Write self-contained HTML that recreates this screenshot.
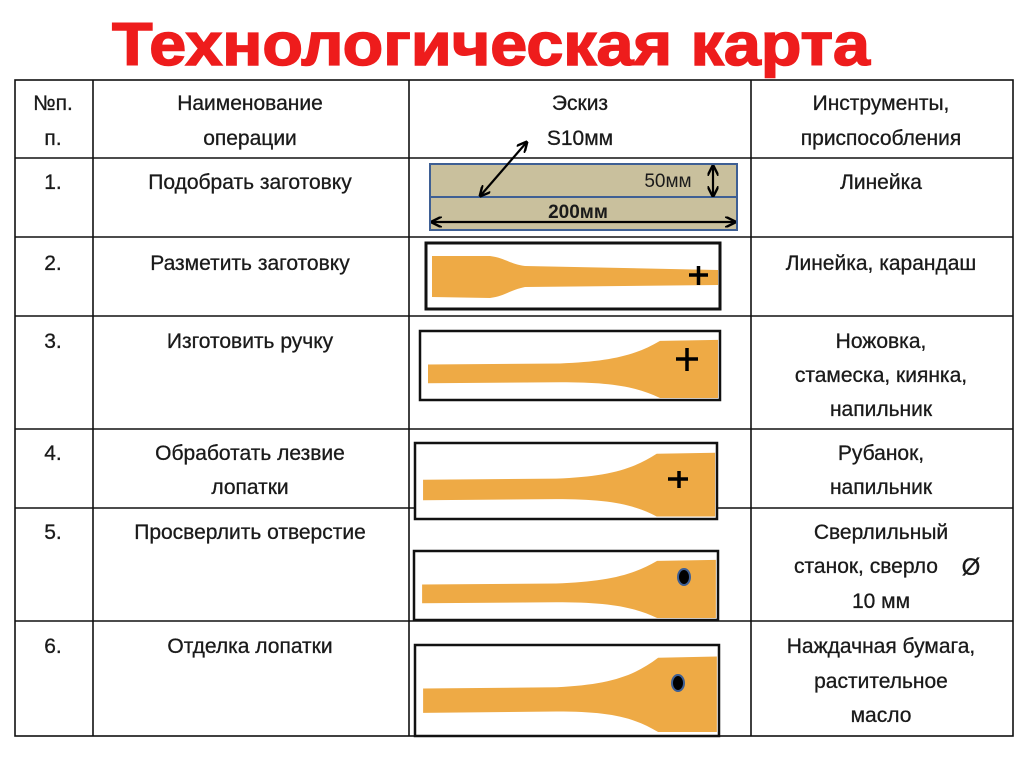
<!DOCTYPE html>
<html><head><meta charset="utf-8"><style>
body{margin:0;background:#fff;width:1024px;height:767px;overflow:hidden}
svg{display:block}
text{font-family:"Liberation Sans","DejaVu Sans",sans-serif;fill:#1a1a1a}
</style></head><body>
<svg width="1024" height="767" viewBox="0 0 1024 767" xmlns="http://www.w3.org/2000/svg">
<defs>
<path id="sp" d="M8,34 L140,33 C190,31 215,25 240,10 L298,9 L298,68 L240,68 C215,56 190,52 140,52 L8,53 Z" fill="#eeaa45"/>
<marker id="ah" viewBox="0 0 10 10" refX="8" refY="5" markerWidth="5" markerHeight="5" orient="auto-start-reverse"><path d="M0,0 L10,5 L0,10" fill="none" stroke="#000" stroke-width="2.2"/></marker>
</defs>
<text x="491" y="65" text-anchor="middle" font-size="60" font-weight="bold" style="fill:#ee1c1c;stroke:#ee1c1c;stroke-width:1.5" textLength="758" lengthAdjust="spacingAndGlyphs">Технологическая карта</text>
<g stroke="#111" stroke-width="1.6" fill="none">
<rect x="15" y="80" width="998" height="656"/>
<line x1="93" y1="80" x2="93" y2="736"/>
<line x1="409" y1="80" x2="409" y2="736"/>
<line x1="751" y1="80" x2="751" y2="736"/>
<line x1="15" y1="158" x2="1013" y2="158"/>
<line x1="15" y1="237" x2="1013" y2="237"/>
<line x1="15" y1="316" x2="1013" y2="316"/>
<line x1="15" y1="429" x2="1013" y2="429"/>
<line x1="15" y1="508" x2="1013" y2="508"/>
<line x1="15" y1="621" x2="1013" y2="621"/>
</g>
<g font-size="21" text-anchor="middle" style="stroke:#1a1a1a;stroke-width:0.3">
<text x="53" y="110">№п.</text><text x="53" y="145">п.</text>
<text x="250" y="110">Наименование</text><text x="250" y="145">операции</text>
<text x="580" y="110">Эскиз</text><text x="580" y="145">S10мм</text>
<text x="881" y="110">Инструменты,</text><text x="881" y="145">приспособления</text>
<text x="53" y="189">1.</text><text x="250" y="189">Подобрать заготовку</text><text x="881" y="189">Линейка</text>
<text x="53" y="270">2.</text><text x="250" y="270">Разметить заготовку</text><text x="881" y="270">Линейка, карандаш</text>
<text x="53" y="348">3.</text><text x="250" y="348">Изготовить ручку</text>
<text x="881" y="348">Ножовка,</text><text x="881" y="382">стамеска, киянка,</text><text x="881" y="416">напильник</text>
<text x="53" y="460">4.</text><text x="250" y="460">Обработать лезвие</text><text x="250" y="494">лопатки</text>
<text x="881" y="460">Рубанок,</text><text x="881" y="494">напильник</text>
<text x="53" y="539">5.</text><text x="250" y="539">Просверлить отверстие</text>
<text x="881" y="539">Сверлильный</text><text x="866" y="573">станок, сверло</text><text x="971" y="575" font-size="24">Ø</text><text x="881" y="608">10 мм</text>
<text x="53" y="653">6.</text><text x="250" y="653">Отделка лопатки</text>
<text x="881" y="653">Наждачная бумага,</text><text x="881" y="688">растительное</text><text x="881" y="722">масло</text>
</g>
<rect x="430" y="164" width="307" height="33" fill="#c9c09d" stroke="#3e5f94" stroke-width="2"/>
<rect x="430" y="197" width="307" height="33" fill="#c9c09d" stroke="#3e5f94" stroke-width="2"/>
<text x="668" y="187" font-size="19" text-anchor="middle">50мм</text>
<text x="578" y="218" font-size="19" font-weight="bold" text-anchor="middle">200мм</text>
<g stroke="#000" stroke-width="2.2" marker-start="url(#ah)" marker-end="url(#ah)">
<line x1="481" y1="195" x2="526" y2="143"/>
<line x1="433" y1="222" x2="734" y2="222"/>
<line x1="713" y1="167" x2="713" y2="195"/>
</g>
<rect x="426" y="243" width="294" height="66" fill="#fff" stroke="#111" stroke-width="3"/>
<path d="M432,256 L490,256 C505,258 510,264 525,266 L718,270 L718,285 L525,287 C510,290 505,296 490,298 L432,297 Z" fill="#eeaa45"/>
<path d="M689,275 h19 M698.5,266 v19" stroke="#000" stroke-width="3.5"/>
<rect x="420" y="331" width="300" height="69" fill="#fff" stroke="#111" stroke-width="2.5"/>
<use href="#sp" transform="translate(420,331) scale(1,0.985)"/>
<path d="M676,359 h22 M687,348 v23" stroke="#000" stroke-width="3.5"/>
<rect x="415" y="443" width="302" height="76" fill="#fff" stroke="#111" stroke-width="2.5"/>
<use href="#sp" transform="translate(415,443) scale(1.007,1.08)"/>
<path d="M668,479 h20 M679,471 v17" stroke="#000" stroke-width="3.5"/>
<rect x="414" y="551" width="304" height="69" fill="#fff" stroke="#111" stroke-width="2.5"/>
<use href="#sp" transform="translate(414,551) scale(1.013,0.985)"/>
<ellipse cx="684" cy="577" rx="6" ry="8" fill="#000" stroke="#3e5f94" stroke-width="2"/>
<rect x="415" y="645" width="304" height="91" fill="#fff" stroke="#111" stroke-width="2.5"/>
<use href="#sp" transform="translate(415,645) scale(1.013,1.28)"/>
<ellipse cx="678" cy="683" rx="6" ry="8" fill="#000" stroke="#3e5f94" stroke-width="2"/>
</svg>
</body></html>
